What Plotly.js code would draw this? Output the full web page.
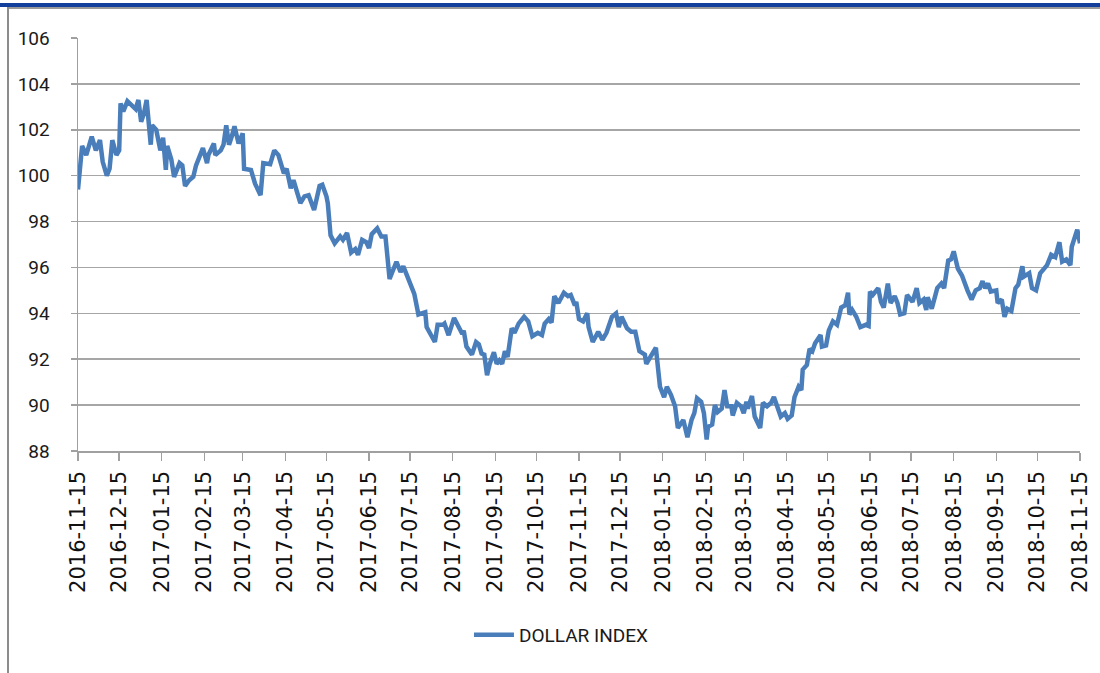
<!DOCTYPE html>
<html>
<head>
<meta charset="utf-8">
<script src="https://cdn.plot.ly/plotly-3.0.1.min.js"></script>
<style>
  html, body { margin: 0; padding: 0; background: #ffffff; }
  #wrap { position: relative; width: 1100px; height: 673px; overflow: hidden; }
  #chart { position: absolute; left: 0; top: 0; width: 1100px; height: 673px; }
  .deco { position: absolute; pointer-events: none; }
</style>
</head>
<body>
<div id="wrap">
  <div id="chart"></div>
  <div class="deco" style="left:0;top:3px;width:1100px;height:4px;background:#123f9c;"></div>
  <div class="deco" style="left:7px;top:7px;width:1093px;height:2px;background:#9a9a9a;"></div>
  <div class="deco" style="left:7px;top:7px;width:2px;height:666px;background:#8c8c8c;"></div>
</div>
<script>
// ---- Data ----
const seriesName = "DOLLAR INDEX";

const dates = [
  "2016-11-15","2016-11-16","2016-11-18","2016-11-21","2016-11-25","2016-11-28","2016-12-01","2016-12-03",
  "2016-12-06","2016-12-08","2016-12-10","2016-12-13","2016-12-15","2016-12-16","2016-12-18","2016-12-21",
  "2016-12-25","2016-12-27","2016-12-29","2016-12-31","2017-01-02","2017-01-04","2017-01-07","2017-01-08",
  "2017-01-11","2017-01-14","2017-01-16","2017-01-18","2017-01-19","2017-01-22","2017-01-24","2017-01-28",
  "2017-01-30","2017-02-01","2017-02-04","2017-02-07","2017-02-09","2017-02-14","2017-02-17","2017-02-18",
  "2017-02-22","2017-02-23","2017-02-27","2017-03-01","2017-03-03","2017-03-05","2017-03-07","2017-03-09",
  "2017-03-12","2017-03-15","2017-03-16","2017-03-21","2017-03-24","2017-03-28","2017-03-30","2017-04-04",
  "2017-04-07","2017-04-10","2017-04-14","2017-04-16","2017-04-19","2017-04-21","2017-04-26","2017-04-29",
  "2017-05-02","2017-05-06","2017-05-10","2017-05-12","2017-05-15","2017-05-16","2017-05-18","2017-05-21",
  "2017-05-25","2017-05-27","2017-05-30","2017-06-02","2017-06-05","2017-06-07","2017-06-10","2017-06-13",
  "2017-06-15","2017-06-17","2017-06-21","2017-06-24","2017-06-27","2017-06-30","2017-07-02","2017-07-05",
  "2017-07-08","2017-07-10","2017-07-12","2017-07-16","2017-07-18","2017-07-21","2017-07-23","2017-07-26",
  "2017-07-27","2017-07-30","2017-08-02","2017-08-04","2017-08-08","2017-08-09","2017-08-12","2017-08-16",
  "2017-08-19","2017-08-22","2017-08-23","2017-08-25","2017-08-29","2017-09-01","2017-09-03","2017-09-05",
  "2017-09-07","2017-09-09","2017-09-11","2017-09-14","2017-09-16","2017-09-18","2017-09-20","2017-09-22",
  "2017-09-24","2017-09-27","2017-09-29","2017-10-02","2017-10-06","2017-10-09","2017-10-12","2017-10-16",
  "2017-10-19","2017-10-21","2017-10-24","2017-10-26","2017-10-28","2017-10-31","2017-11-04","2017-11-07",
  "2017-11-09","2017-11-12","2017-11-13","2017-11-15","2017-11-18","2017-11-21","2017-11-22","2017-11-25",
  "2017-11-29","2017-12-02","2017-12-05","2017-12-09","2017-12-12","2017-12-14","2017-12-16","2017-12-20",
  "2017-12-23","2017-12-26","2017-12-29","2018-01-02","2018-01-03","2018-01-06","2018-01-10","2018-01-13",
  "2018-01-16","2018-01-18","2018-01-21","2018-01-24","2018-01-26","2018-01-30","2018-02-02","2018-02-05",
  "2018-02-07","2018-02-09","2018-02-12","2018-02-14","2018-02-16","2018-02-17","2018-02-20","2018-02-22",
  "2018-02-24","2018-02-27","2018-03-01","2018-03-03","2018-03-06","2018-03-07","2018-03-10","2018-03-13",
  "2018-03-15","2018-03-17","2018-03-18","2018-03-21","2018-03-23","2018-03-27","2018-03-29","2018-04-01",
  "2018-04-04","2018-04-06","2018-04-09","2018-04-11","2018-04-14","2018-04-16","2018-04-19","2018-04-21",
  "2018-04-24","2018-04-26","2018-04-27","2018-04-30","2018-05-02","2018-05-04","2018-05-06","2018-05-10",
  "2018-05-11","2018-05-14","2018-05-16","2018-05-19","2018-05-22","2018-05-25","2018-05-28","2018-05-30",
  "2018-05-31","2018-06-02","2018-06-05","2018-06-08","2018-06-12","2018-06-14","2018-06-15","2018-06-17",
  "2018-06-21","2018-06-23","2018-06-25","2018-06-28","2018-06-30","2018-07-03","2018-07-05","2018-07-07",
  "2018-07-10","2018-07-12","2018-07-16","2018-07-19","2018-07-21","2018-07-24","2018-07-26","2018-07-27",
  "2018-07-30","2018-08-03","2018-08-06","2018-08-08","2018-08-11","2018-08-13","2018-08-15","2018-08-16",
  "2018-08-18","2018-08-21","2018-08-23","2018-08-25","2018-08-28","2018-08-31","2018-09-03","2018-09-05",
  "2018-09-07","2018-09-09","2018-09-11","2018-09-15","2018-09-16","2018-09-19","2018-09-21","2018-09-23",
  "2018-09-26","2018-09-29","2018-10-01","2018-10-04","2018-10-05","2018-10-09","2018-10-11","2018-10-14",
  "2018-10-17","2018-10-19","2018-10-22","2018-10-25","2018-10-28","2018-10-31","2018-11-02","2018-11-05",
  "2018-11-08","2018-11-09","2018-11-13","2018-11-15"
];

const dollarIndex = [
  99.4,100.2,101.3,100.9,101.7,101.1,101.55,100.6,
  100.0,100.3,101.55,100.9,101.1,103.15,102.8,103.25,
  103.0,102.9,103.3,102.35,102.7,103.3,101.35,102.2,
  102.0,101.1,101.65,100.25,101.3,100.7,99.95,100.55,
  100.45,99.55,99.8,99.95,100.45,101.2,100.55,100.9,
  101.4,100.9,101.1,101.35,102.2,101.35,101.7,102.15,
  101.4,101.85,100.3,100.25,99.65,99.15,100.55,100.5,
  101.1,100.9,100.1,100.3,99.45,99.8,98.8,99.1,
  99.15,98.5,99.55,99.6,99.1,98.8,97.4,97.05,
  97.35,97.2,97.5,96.65,96.8,96.55,97.2,97.1,
  96.85,97.45,97.7,97.35,97.35,95.5,95.8,96.25,
  95.8,96.05,95.75,95.1,94.85,93.95,94.0,94.05,
  93.4,93.05,92.75,93.5,93.5,93.55,93.05,93.8,
  93.4,93.1,93.25,92.55,92.2,92.75,92.65,92.25,
  92.2,91.3,91.8,92.3,91.8,91.95,91.8,92.35,
  92.1,93.35,93.15,93.55,93.85,93.65,93.0,93.15,
  93.05,93.55,93.75,93.6,94.75,94.45,94.9,94.75,
  94.8,94.35,94.5,93.75,93.65,94.0,93.4,92.75,
  93.2,92.85,93.15,93.85,94.0,93.4,93.85,93.35,
  93.2,93.2,92.35,92.2,91.8,92.1,92.5,90.8,
  90.35,90.8,90.45,89.95,89.0,89.35,88.6,89.35,
  89.65,90.3,90.15,89.65,88.5,89.05,89.15,90.0,
  89.7,89.85,90.65,89.95,89.95,89.55,90.1,89.95,
  89.65,90.15,89.85,90.4,89.5,89.0,90.1,89.95,
  90.1,90.35,89.85,89.5,89.65,89.4,89.55,90.35,
  90.8,90.65,91.55,91.75,92.45,92.35,92.7,93.05,
  92.55,92.6,93.25,93.65,93.5,94.25,94.35,94.9,
  93.95,94.15,93.85,93.4,93.5,93.45,94.95,94.8,
  95.1,94.5,94.25,95.3,94.45,94.75,94.45,93.95,
  94.0,94.8,94.5,95.1,94.45,94.6,94.15,94.7,
  94.2,95.1,95.3,95.1,96.3,96.35,96.7,96.45,
  95.95,95.65,95.3,95.0,94.6,95.0,95.1,95.4,
  95.1,95.3,94.95,95.0,94.45,94.6,93.85,94.2,
  94.1,95.1,95.25,96.05,95.6,95.75,95.1,95.0,
  95.75,95.9,96.1,96.55,96.45,97.1,96.25,96.35,
  96.1,96.9,97.65,97.05
];

const tickDates = [
  "2016-11-15","2016-12-15","2017-01-15","2017-02-15","2017-03-15","2017-04-15","2017-05-15",
  "2017-06-15","2017-07-15","2017-08-15","2017-09-15","2017-10-15","2017-11-15","2017-12-15",
  "2018-01-15","2018-02-15","2018-03-15","2018-04-15","2018-05-15","2018-06-15","2018-07-15",
  "2018-08-15","2018-09-15","2018-10-15","2018-11-15"
];

const yTicks = [88, 90, 92, 94, 96, 98, 100, 102, 104, 106];

// ---- Chart ----
const trace = {
  type: "scatter",
  mode: "lines",
  name: seriesName,
  x: dates,
  y: dollarIndex,
  line: { color: "#4a7ebb", width: 4.5, shape: "linear" },
  cliponaxis: true
};

const layout = {
  width: 1100,
  height: 673,
  margin: { l: 78, r: 20, t: 38, b: 222 },
  paper_bgcolor: "rgba(0,0,0,0)",
  plot_bgcolor: "#ffffff",
  showlegend: true,
  legend: {
    orientation: "h",
    x: 0.482, xanchor: "center",
    y: -0.445, yanchor: "middle",
    font: { family: "Roboto, 'Liberation Sans', Arial, sans-serif", size: 19, color: "#1a1a1a" },
    itemwidth: 40,
    bgcolor: "rgba(0,0,0,0)"
  },
  xaxis: {
    type: "date",
    range: [tickDates[0], tickDates[tickDates.length - 1]],
    tickmode: "array",
    tickvals: tickDates,
    ticktext: tickDates,
    tickangle: -90,
    ticks: "outside",
    ticklen: 8,
    tickwidth: 1.5,
    tickcolor: "#a0a0a0",
    showgrid: false,
    showline: true,
    linecolor: "#a0a0a0",
    linewidth: 1.5,
    zeroline: false,
    tickfont: { family: "'DejaVu Sans', sans-serif", size: 21, color: "#111111" },
    ticklabelstandoff: 2
  },
  yaxis: {
    range: [88, 106],
    tickmode: "array",
    tickvals: yTicks,
    ticktext: yTicks.map(String),
    ticks: "outside",
    ticklen: 6,
    tickwidth: 1.5,
    tickcolor: "#a0a0a0",
    showgrid: true,
    gridcolor: "#a6a6a6",
    gridwidth: 1.5,
    showline: true,
    linecolor: "#a0a0a0",
    linewidth: 1.5,
    zeroline: false,
    tickfont: { family: "Roboto, 'Liberation Sans', Arial, sans-serif", size: 19, color: "#1a1a1a" },
    ticklabelstandoff: 17
  }
};

Plotly.newPlot("chart", [trace], layout, { displayModeBar: false, staticPlot: true });
</script>
</body>
</html>
